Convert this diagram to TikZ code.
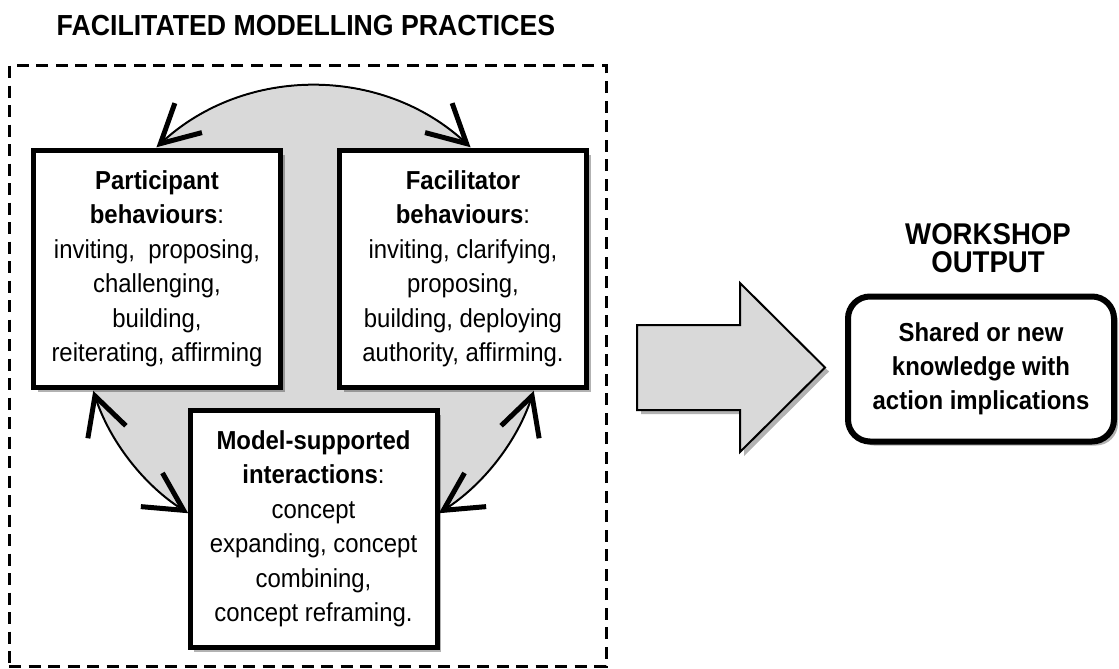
\documentclass[tikz,border=0pt]{standalone}
\usepackage{fontspec}
\setmainfont{Liberation Sans}[FakeStretch=0.92]
\usetikzlibrary{arrows.meta,shadows}
\definecolor{lightfill}{HTML}{D9D9D9}
\begin{document}
\begin{tikzpicture}[x=1pt,y=1pt,
  shade/.style={drop shadow={shadow xshift=4pt, shadow yshift=-4pt, fill=black, opacity=0.3}},
  box/.style={draw=black, line width=5pt, fill=white, minimum width=247pt, minimum height=237pt,
    align=center, inner sep=0pt, font=\fontsize{26}{34.5}\selectfont, shade},
  barb/.tip={Straight Barb[length=38pt,width=40pt,line width=5pt]},
  cyc/.style={line width=2pt, barb-barb},
  frame/.style={draw=black, line width=3pt, dash pattern=on 12pt off 7.5pt, minimum width=597pt, minimum height=600pt, inner sep=0pt},
]
\useasboundingbox (0,0) rectangle (1119,-669);
\fill[white] (0,0) rectangle (1119,-669);

\node[font=\bfseries\fontsize{29}{30}\selectfont] (title) at (306,-26) {FACILITATED MODELLING PRACTICES};
\node[frame] (practices) at (307.5,-366) {};

\coordinate (C) at (313.5,-318);
\fill[lightfill] (C) circle[radius=232];

\node[box] (part) at (157,-269) {\textbf{Participant}\\\textbf{behaviours}:\\inviting,\ \ proposing,\\challenging,\\building,\\reiterating, affirming};
\node[box] (fac) at (463,-269) {\textbf{Facilitator}\\\textbf{behaviours}:\\inviting, clarifying,\\proposing,\\building, deploying\\authority, affirming.};
\node[box] (model) at (313.5,-529) {\textbf{Model-supported}\\\textbf{interactions}:\\concept\\expanding, concept\\combining,\\concept reframing.};

\path (C) ++(132.6:232) coordinate (a1) (C) ++(198.3:232) coordinate (b1) (C) ++(-18.3:232) coordinate (c1);
\draw[cyc] (a1) arc[start angle=132.6, end angle=47.4, radius=232];
\draw[cyc] (b1) arc[start angle=198.3, end angle=237.3, radius=232];
\draw[cyc] (c1) arc[start angle=-18.3, end angle=-57.3, radius=232];

\draw[fill=lightfill, line width=2pt, shade] (637,-325) -- (740,-325) -- (740,-283) -- (825,-367.5) -- (740,-452) -- (740,-410) -- (637,-410) -- cycle;

\node[font=\bfseries\fontsize{30}{28}\selectfont, align=center] (wo) at (988,-248) {WORKSHOP\\OUTPUT};
\node[draw=black, line width=6pt, rounded corners=22pt, minimum width=266pt, minimum height=145pt, fill=white,
  inner sep=0pt, font=\bfseries\fontsize{26}{34}\selectfont, align=center, shade] (out) at (981,-369) {Shared or new\\knowledge with\\action implications};
\end{tikzpicture}
\end{document}
